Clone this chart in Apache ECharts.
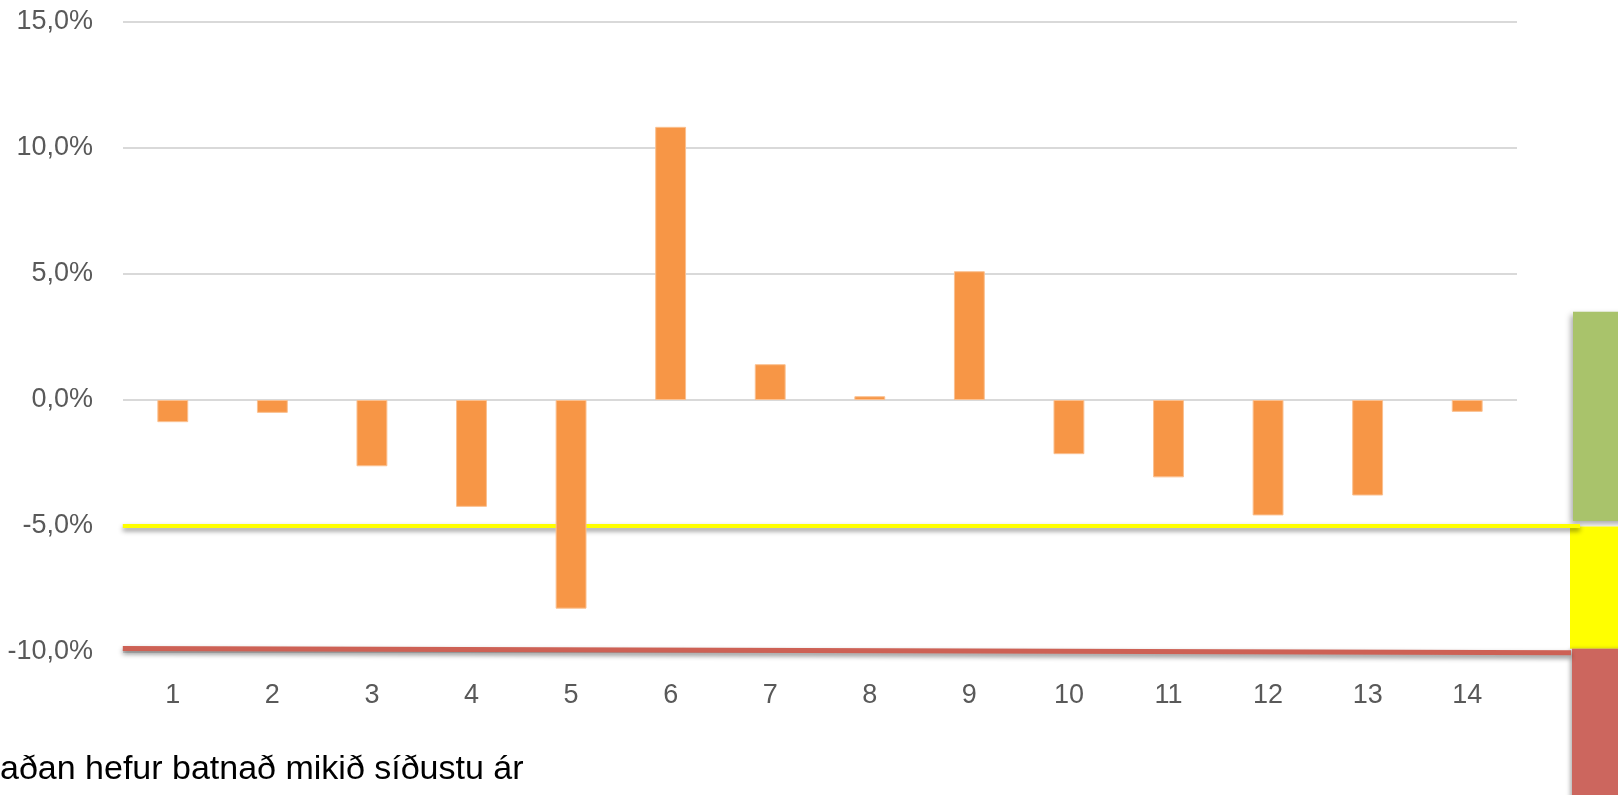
<!DOCTYPE html>
<html>
<head>
<meta charset="utf-8">
<script src="https://cdn.jsdelivr.net/npm/echarts@6/dist/echarts.min.js"></script>
<style>
  html, body { margin: 0; padding: 0; background: #fff; }
  #chart { width: 1618px; height: 795px; }
</style>
</head>
<body>
<div id="chart"></div>
<script>
// flokkar og gildi (%)
var flokkar = ['1','2','3','4','5','6','7','8','9','10','11','12','13','14'];
var breyting = [-0.88, -0.51, -2.63, -4.24, -8.28, 10.84, 1.42, 0.15, 5.11, -2.15, -3.07, -4.58, -3.79, -0.47];
var gulMork = -5;    // gul lína
var raudMork = -10;  // rauð lína
var skyring = 'aðan hefur batnað mikið síðustu ár';

var myChart = echarts.init(document.getElementById('chart'));

var option = {
    animation: false,
    backgroundColor: '#fff',
    grid: { left: 123, right: 101, top: 22, bottom: 143 },
    xAxis: {
        type: 'category',
        data: flokkar,
        axisLine: { show: false },
        axisTick: { show: false },
        axisLabel: { color: '#595959', fontSize: 27, fontFamily: 'Liberation Sans', margin: 30 }
    },
    yAxis: {
        type: 'value',
        min: -10,
        max: 15,
        interval: 5,
        axisLine: { show: false },
        axisTick: { show: false },
        splitLine: { lineStyle: { color: '#D9D9D9', width: 2 } },
        axisLabel: {
            color: '#595959', fontSize: 27, fontFamily: 'Liberation Sans', margin: 30,
            formatter: function (v) { return v.toFixed(1).replace('.', ',') + '%'; }
        }
    },
    series: [{
        type: 'bar',
        data: breyting,
        barCategoryGap: '69%',
        itemStyle: { color: '#F79646', borderColor: '#FAC090', borderWidth: 1 }
    }]
};
myChart.setOption(option);

// litaðar línur og kassar hægra megin
var yp = function (v) { return myChart.convertToPixel({ yAxisIndex: 0 }, v); };
var x0 = myChart.convertToPixel({ xAxisIndex: 0 }, 0) - 50;
var skuggi = { shadowColor: 'rgba(0,0,0,0.45)', shadowBlur: 5, shadowOffsetY: 3 };

myChart.setOption({
    graphic: [
        { type: 'rect', shape: { x: 1573, y: yp(3.5), width: 60, height: yp(-4.8) - yp(3.5) },
          style: Object.assign({ fill: '#A9C36B' }, { shadowColor: 'rgba(0,0,0,0.35)', shadowBlur: 6, shadowOffsetX: -2, shadowOffsetY: 3 }) },
        { type: 'rect', shape: { x: 1570, y: yp(-5.02), width: 60, height: yp(-9.87) - yp(-5.02) },
          style: { fill: '#FFFF00' } },
        { type: 'rect', shape: { x: 1572, y: yp(-9.87), width: 60, height: 150 },
          style: Object.assign({ fill: '#CC665E' }, { shadowColor: 'rgba(0,0,0,0.3)', shadowBlur: 4, shadowOffsetX: -2 }) },
        { type: 'line', shape: { x1: x0, y1: yp(gulMork), x2: 1580, y2: yp(gulMork) },
          style: Object.assign({ stroke: '#FFFF00', lineWidth: 4 }, skuggi) },
        { type: 'line', shape: { x1: x0, y1: yp(raudMork + 0.14), x2: 1571, y2: yp(raudMork - 0.03) },
          style: Object.assign({ stroke: '#CD6155', lineWidth: 5 }, skuggi) },
        { type: 'text', left: 0, top: 753,
          style: { text: skyring, fill: '#000', fontSize: 34, fontFamily: 'Liberation Sans' } }
    ]
});
</script>
</body>
</html>
